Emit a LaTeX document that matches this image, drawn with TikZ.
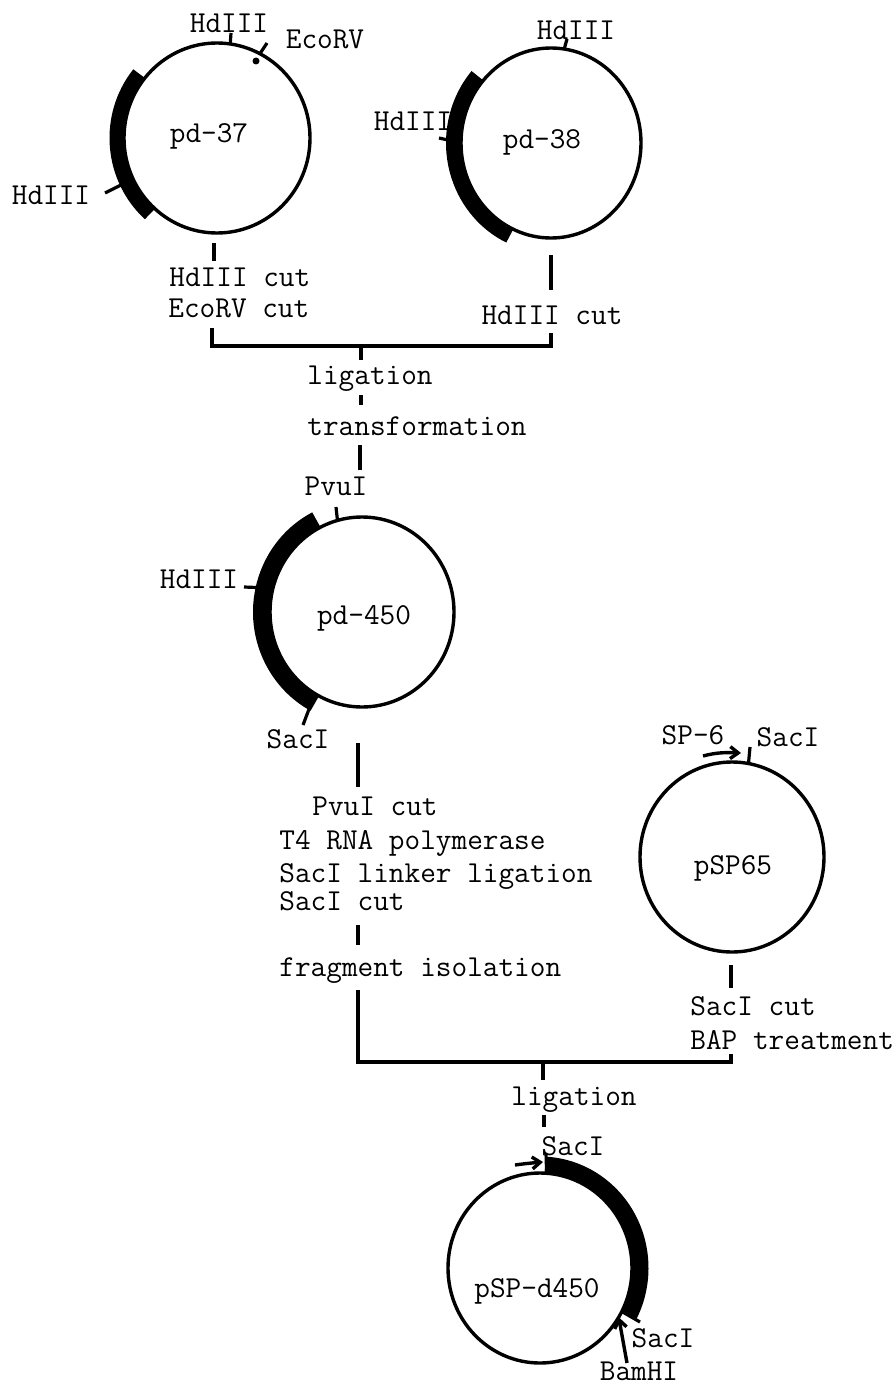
\documentclass[tikz,border=0pt]{standalone}
\usepackage{tikz}
\usetikzlibrary{calc,arrows.meta,shapes.geometric}
\tikzset{
  plasmid/.style={draw,ellipse,line width=1.7pt,inner sep=0pt,outer sep=0pt},
  band/.style={line width=#1*0.5pt},
  conn/.style={line width=1.6pt},
  lbl/.style={inner sep=0pt,font=\fontsize{15.2}{17}\ttfamily},
  siteArrow/.style={line width=1.7pt,-{Straight Barb[length=4pt,width=6pt]}}
}
\begin{document}
\begin{tikzpicture}[x=0.5pt,y=0.5pt]
    \useasboundingbox (0,0) rectangle (895,-1386);
    % plasmids
    \node[plasmid,minimum width=93pt,minimum height=95pt] (pd37) at (217,-138) {};
    \node[plasmid,minimum width=90pt,minimum height=95pt] (pd38) at (551,-143) {};
    \node[plasmid,minimum width=92pt,minimum height=95pt] (pd450) at (362,-612) {};
    \node[plasmid,minimum width=92pt,minimum height=95pt] (pSP65) at (732,-857) {};
    \node[plasmid,minimum width=92pt,minimum height=95pt] (pSPd) at (540,-1268) {};
    % inserts
    \draw[band=15] ($(pd37)+(141:100 and 102)$) arc[start angle=141,end angle=228,x radius=100,y radius=102];
    \draw[band=16] ($(pd38)+(139:97 and 102)$) arc[start angle=139,end angle=245,x radius=97,y radius=102];
    \draw[band=18] ($(pd450)+(117:100 and 103)$) arc[start angle=117,end angle=242,x radius=100,y radius=103];
    \draw[band=17] ($(pSPd)+(87:100 and 103)$) arc[start angle=87,end angle=-28,x radius=100,y radius=103];
    % plasmid names
    \node[lbl] (pd37name) at (209,-136) {pd-37};
    \node[lbl] (pd38name) at (542,-142) {pd-38};
    \node[lbl] (pd450name) at (364,-618) {pd-450};
    \node[lbl] (pSP65name) at (733,-868) {pSP65};
    \node[lbl] (pSPdname) at (537,-1291) {pSP-d450};
    % site labels
    \node[lbl] (hd37top) at (229,-23) {HdIII};
    \node[lbl] (eco37) at (325,-39) {EcoRV};
    \node[lbl] (hd37left) at (51,-195) {HdIII};
    \node[lbl] (hd38top) at (576,-30) {HdIII};
    \node[lbl] (hd38left) at (413,-121) {HdIII};
    \node[lbl] (pvu450) at (336,-486) {PvuI};
    \node[lbl] (hd450) at (199,-579) {HdIII};
    \node[lbl] (sac450) at (298,-739) {SacI};
    \node[lbl] (sp6) at (693,-735) {SP-6};
    \node[lbl] (sac65) at (788,-737) {SacI};
    \node[lbl] (sacdtop) at (573,-1146) {SacI};
    \node[lbl] (sacdright) at (663,-1338) {SacI};
    \node[lbl] (bamd) at (639,-1371) {BamHI};
    % steps
    \node[lbl,anchor=west] (cut37a) at (169,-277) {HdIII cut};
    \node[lbl,anchor=west] (cut37b) at (168,-308) {EcoRV cut};
    \node[lbl] (cut38) at (552,-315) {HdIII cut};
    \node[lbl] (lig1) at (370,-379) {ligation};
    \node[lbl] (transf) at (417,-426) {transformation};
    \node[lbl] (cutPvu) at (375,-806) {PvuI cut};
    \node[lbl,anchor=west] (t4) at (279,-843) {T4 RNA polymerase};
    \node[lbl,anchor=west] (linker) at (279,-876) {SacI linker ligation};
    \node[lbl,anchor=west] (cutSac) at (279,-901) {SacI cut};
    \node[lbl,anchor=west] (fragm) at (279,-971) {fragment isolation};
    \node[lbl,anchor=west] (cut65) at (690,-1006) {SacI cut};
    \node[lbl,anchor=west] (bap) at (690,-1040) {BAP treatment};
    \node[lbl] (lig2) at (574,-1100) {ligation};
    % site ticks
    \foreach \pl/\angle/\xe/\ye in {pd37/82/231/33,pd37/63/267/43,pd37/206/105/193,
        pd38/82/567/39,pd38/180/439/138,pd450/105/336/507,pd450/165/244/587,
        pd450/240/303/725,pSP65/80/750/747,pSPd/86/546/1153,pSPd/-28/640/1322} {
       \coordinate (siteEnd) at (\xe,-\ye);
       \draw[conn] (\pl.\angle) -- (siteEnd);
     }
    \fill (256,-61) circle (3.5);
    % flow segments
    \foreach \x/\ya/\yb in {214/243/261,551/255/290,361/345/360,361/395/405,360/445/470,
        358/743/787,358/925/945,731/965/988,543/1062/1080,544/1115/1127} {
       \coordinate (segTop) at (\x,-\ya);
       \coordinate (segEnd) at (\x,-\yb);
       \draw[conn] (segTop) -- (segEnd);
     }
    % joins
    \coordinate (joinA) at (212,-328);
    \coordinate (joinB) at (551,-333);
    \draw[conn] (joinA) |- (joinB |- 0,-346) -- (joinB);
    \coordinate (joinC) at (358,-990);
    \coordinate (joinD) at (731,-1054);
    \draw[conn] (joinC) |- (joinD |- 0,-1062) -- (joinD);
    % promoters
    \coordinate (sp6start) at (703,-756);
    \coordinate (sp6end) at (741,-753);
    \draw[siteArrow] (sp6start) to[out=15,in=178] (sp6end);
    \coordinate (arrowStart) at (515,-1165);
    \coordinate (arrowEnd) at (543,-1162);
    \draw[siteArrow] (arrowStart) to[out=8,in=185] (arrowEnd);
    \coordinate (bamStart) at (627,-1363);
    \draw[siteArrow] (bamStart) -- (pSPd.-32);
\end{tikzpicture}
\end{document}
